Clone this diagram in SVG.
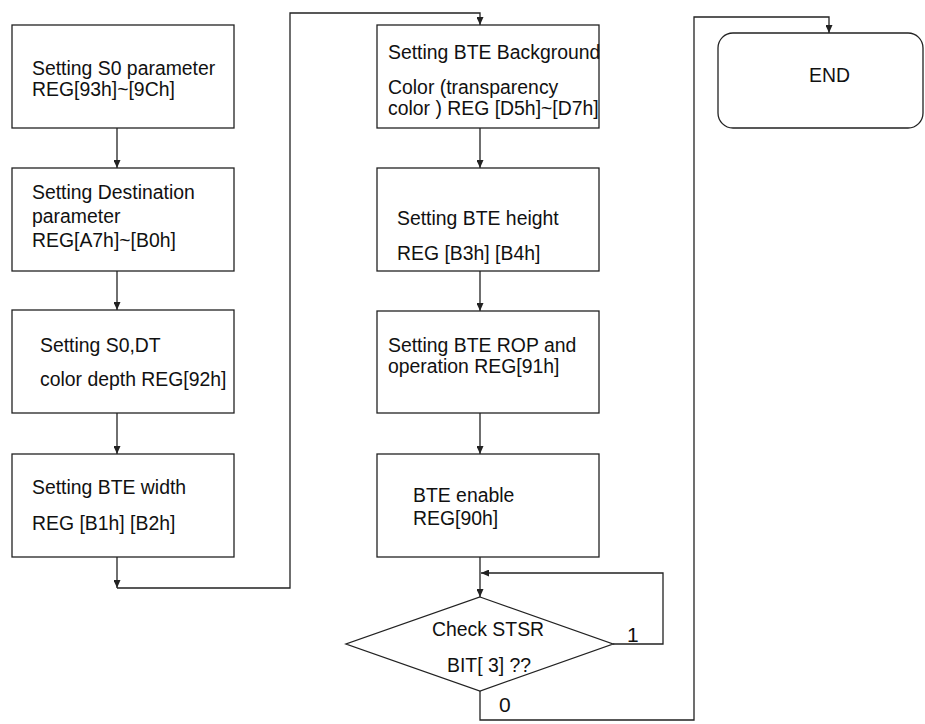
<svg xmlns="http://www.w3.org/2000/svg" width="925" height="724" viewBox="0 0 925 724">
<defs>
<marker id="arr" markerUnits="userSpaceOnUse" markerWidth="8" markerHeight="7" refX="8" refY="3.5" orient="auto"><path d="M0,0 L8,3.5 L0,7 z" fill="#222"/></marker>
<style>
.box{fill:#fff;stroke:#222;stroke-width:1.3}
.t{font-family:"Liberation Sans",Arial,sans-serif;font-size:19.4px;fill:#111}
.c{fill:none;stroke:#222;stroke-width:1.3;marker-end:url(#arr)}
</style>
</defs>
<rect width="925" height="724" fill="#fff"/>
<g id="connectors">
<path class="c" d="M117,128 V168"/>
<path class="c" d="M117,271 V310"/>
<path class="c" d="M117,413 V454"/>
<path class="c" d="M117,557 V588"/>
<path class="c" d="M117,588 H290 V13 H480 V25"/>
<path class="c" d="M480,128 V168"/>
<path class="c" d="M480,271 V311"/>
<path class="c" d="M480,413 V454"/>
<path class="c" d="M480,557 V597"/>
<path class="c" d="M613,644 H663 V573 H481"/>
<path class="c" d="M480,691 V720 H694 V17 H829 V33"/>
<text class="t" x="627" y="642" style="font-size:21px">1</text>
<text class="t" x="499" y="712" style="font-size:21px">0</text>
</g>
<g id="n1"><rect class="box" x="12" y="25" width="222" height="103"/>
<text class="t" x="32" y="75">Setting S0 parameter</text><text class="t" x="32" y="96">REG[93h]~[9Ch]</text></g>
<g id="n2"><rect class="box" x="12" y="168" width="222" height="103"/>
<text class="t" x="32" y="199">Setting Destination</text><text class="t" x="32" y="223">parameter</text><text class="t" x="32" y="247">REG[A7h]~[B0h]</text></g>
<g id="n3"><rect class="box" x="12" y="310" width="222" height="103"/>
<text class="t" x="40" y="352">Setting S0,DT</text><text class="t" x="40" y="386">color depth REG[92h]</text></g>
<g id="n4"><rect class="box" x="12" y="454" width="222" height="103"/>
<text class="t" x="32" y="494">Setting BTE width</text><text class="t" x="32" y="530">REG [B1h] [B2h]</text></g>
<g id="n5"><rect class="box" x="377" y="25" width="222" height="103"/>
<text class="t" x="388" y="59">Setting BTE Background</text><text class="t" x="388" y="94">Color (transparency</text><text class="t" x="388" y="115">color ) REG [D5h]~[D7h]</text></g>
<g id="n6"><rect class="box" x="377" y="168" width="222" height="103"/>
<text class="t" x="397" y="225">Setting BTE height</text><text class="t" x="397" y="260">REG [B3h] [B4h]</text></g>
<g id="n7"><rect class="box" x="377" y="311" width="222" height="102"/>
<text class="t" x="388" y="352">Setting BTE ROP and</text><text class="t" x="388" y="373">operation REG[91h]</text></g>
<g id="n8"><rect class="box" x="377" y="454" width="222" height="103"/>
<text class="t" x="413" y="502">BTE enable</text><text class="t" x="413" y="525">REG[90h]</text></g>
<g id="n9"><polygon class="box" points="480,597 613,644 480,691 346,644"/>
<text class="t" x="432" y="636">Check STSR</text><text class="t" x="447" y="672">BIT[ 3] ??</text></g>
<g id="n10"><rect class="box" x="718" y="33" width="205" height="95" rx="15"/>
<text class="t" x="809" y="82">END</text></g>
</svg>
